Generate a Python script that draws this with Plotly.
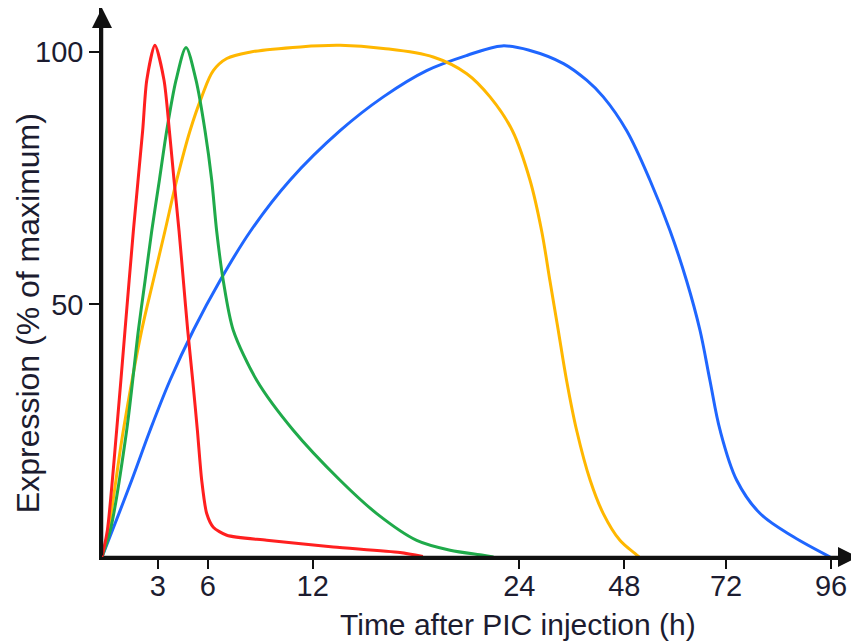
import numpy as np
import plotly.graph_objects as go

# ---- data (hours after PIC injection, % of maximum expression) ----
RED_H = [0, 0.29, 0.79, 1.24, 1.69, 2.19, 2.41, 2.85, 3.38, 3.70, 3.98, 4.28, 4.54, 4.80, 5.10, 5.38, 5.64, 5.94, 6.32, 7.09, 9.37, 13.2, 17.07, 18.4]
RED_V = [0, 5.3, 25.1, 44.9, 64.6, 84.4, 94.4, 101.3, 94.4, 84.4, 74.6, 64.6, 54.7, 44.9, 35, 25.1, 15.2, 8.6, 5.9, 4.3, 3.3, 2.0, 0.9, 0.1]

GREEN_H = [0, 0.45, 1.33, 1.96, 2.32, 2.68, 3.10, 3.54, 4.10, 4.70, 5.30, 5.84, 6.23, 6.51, 6.89, 7.46, 8.80, 10.89, 13.59, 15.72, 18.04, 19.98, 21.9, 22.5]
GREEN_V = [0, 5.3, 25.1, 44.9, 54.7, 64.6, 74.6, 84.4, 94.4, 100.9, 94.4, 84.4, 74.6, 64.6, 54.7, 44.9, 35, 25.1, 15.2, 8.6, 3.3, 1.35, 0.35, 0]

YELLOW_H = [0, 0.34, 1.15, 2.14, 2.76, 3.44, 4.14, 4.94, 5.64, 6.32, 7.09, 8.46, 11.3, 13.59, 16.1, 19.0, 20.95, 22.3, 23.6, 26.45, 29.1, 31.0, 32.9, 34.8, 37.1, 40.2, 43.2, 47.0, 50.5, 51.5]
YELLOW_V = [0, 5.3, 25.1, 44.9, 54.7, 64.6, 74.6, 84.4, 91.1, 96.3, 98.7, 100, 101, 101.3, 100.7, 99, 95.7, 91.1, 84.4, 74.6, 64.6, 54.7, 44.9, 35, 25.1, 15.2, 8.6, 3.3, 0.7, 0]

BLUE_H = [0, 1.60, 2.59, 3.74, 5.14, 6.70, 8.46, 10.70, 13.59, 16.10, 18.62, 20.95, 23.0, 26.45, 34.1, 39.4, 43.2, 48.57, 54.06, 58.8, 62.7, 65.86, 68.2, 70.6, 74.45, 79.8, 87.4, 95.8]
BLUE_V = [0, 15.2, 25.1, 35, 44.9, 54.7, 64.6, 74.6, 84.4, 91.1, 96.3, 99.3, 101.2, 100.3, 97.7, 94.4, 91.1, 84.4, 74.6, 64.6, 54.7, 44.9, 35, 25.1, 15.2, 8.6, 4.0, 0]

X_TICK_HOURS = [3, 6, 12, 24, 48, 72, 96]
X_TICK_LABELS = ["3", "6", "12", "24", "48", "72", "96"]
Y_TICKS = [50, 100]
Y_TICK_LABELS = ["50", "100"]

# ---- broken (piecewise-linear) time scale, as drawn in the original ----
SCALE_HOURS = [0, 3, 6, 12, 24, 48, 72, 96]
SCALE_POS = [0, 55.7, 105.7, 210.7, 417.3, 522.3, 624, 729]


def tscale(h):
    return np.interp(np.asarray(h, dtype=float), SCALE_HOURS, SCALE_POS)


FONT = "Liberation Sans, Arial, sans-serif"
TXT = "#1c1c30"
X_MAX = 756
Y_MAX = 108.7

fig = go.Figure()
series = [
    (BLUE_H, BLUE_V, "#1f66ff", 1.0),
    (YELLOW_H, YELLOW_V, "#ffb700", 1.0),
    (GREEN_H, GREEN_V, "#1faa4a", 0.8),
    (RED_H, RED_V, "#ff1f1f", 0.7),
]
for h, v, c, sm in series:
    fig.add_trace(go.Scatter(
        x=tscale(h), y=v, mode="lines",
        line=dict(color=c, width=3, shape="spline", smoothing=sm),
        showlegend=False, hoverinfo="skip", cliponaxis=False,
    ))

fig.update_xaxes(
    range=[0, X_MAX], tickvals=tscale(X_TICK_HOURS), ticktext=X_TICK_LABELS,
    ticks="outside", ticklen=9, tickwidth=2, tickcolor="#111",
    showline=True, linecolor="#111", linewidth=2.5,
    showgrid=False, zeroline=False, ticklabelstandoff=-8,
    tickfont=dict(family=FONT, size=29, color=TXT),
)
fig.update_yaxes(
    range=[0, Y_MAX], tickvals=Y_TICKS, ticktext=Y_TICK_LABELS,
    ticks="outside", ticklen=10, tickwidth=2, tickcolor="#111",
    showline=True, linecolor="#111", linewidth=2.5,
    showgrid=False, zeroline=False,
    tickfont=dict(family=FONT, size=29, color=TXT),
)

# axis arrows
fig.add_annotation(x=X_MAX, y=0, ax=0, ay=0, xref="x", yref="y", axref="x", ayref="y",
                   showarrow=True, arrowhead=2, arrowsize=1.6, arrowwidth=2.5, arrowcolor="#111", text="")
fig.add_annotation(x=0, y=Y_MAX, ax=0, ay=0, xref="x", yref="y", axref="x", ayref="y",
                   showarrow=True, arrowhead=2, arrowsize=1.6, arrowwidth=2.5, arrowcolor="#111", text="")

# axis titles
PLOT_W, PLOT_H = 756, 548.7
fig.add_annotation(text="Time after PIC injection (h)", xref="paper", yref="paper",
                   x=(510 - 94) / PLOT_W, y=(PLOT_H - 616) / PLOT_H, showarrow=False,
                   font=dict(family=FONT, size=30, color=TXT), xanchor="center", yanchor="middle")
fig.add_annotation(text="Expression (% of maximum)", xref="paper", yref="paper",
                   x=(20 - 94) / PLOT_W, y=(PLOT_H - 305) / PLOT_H, showarrow=False, textangle=-90,
                   font=dict(family=FONT, size=32, color=TXT), xanchor="center", yanchor="middle")

fig.update_layout(
    width=851, height=636,
    margin=dict(l=94, r=1, t=0, b=87.3),
    paper_bgcolor="white", plot_bgcolor="white",
)

fig.write_html("out.html")
